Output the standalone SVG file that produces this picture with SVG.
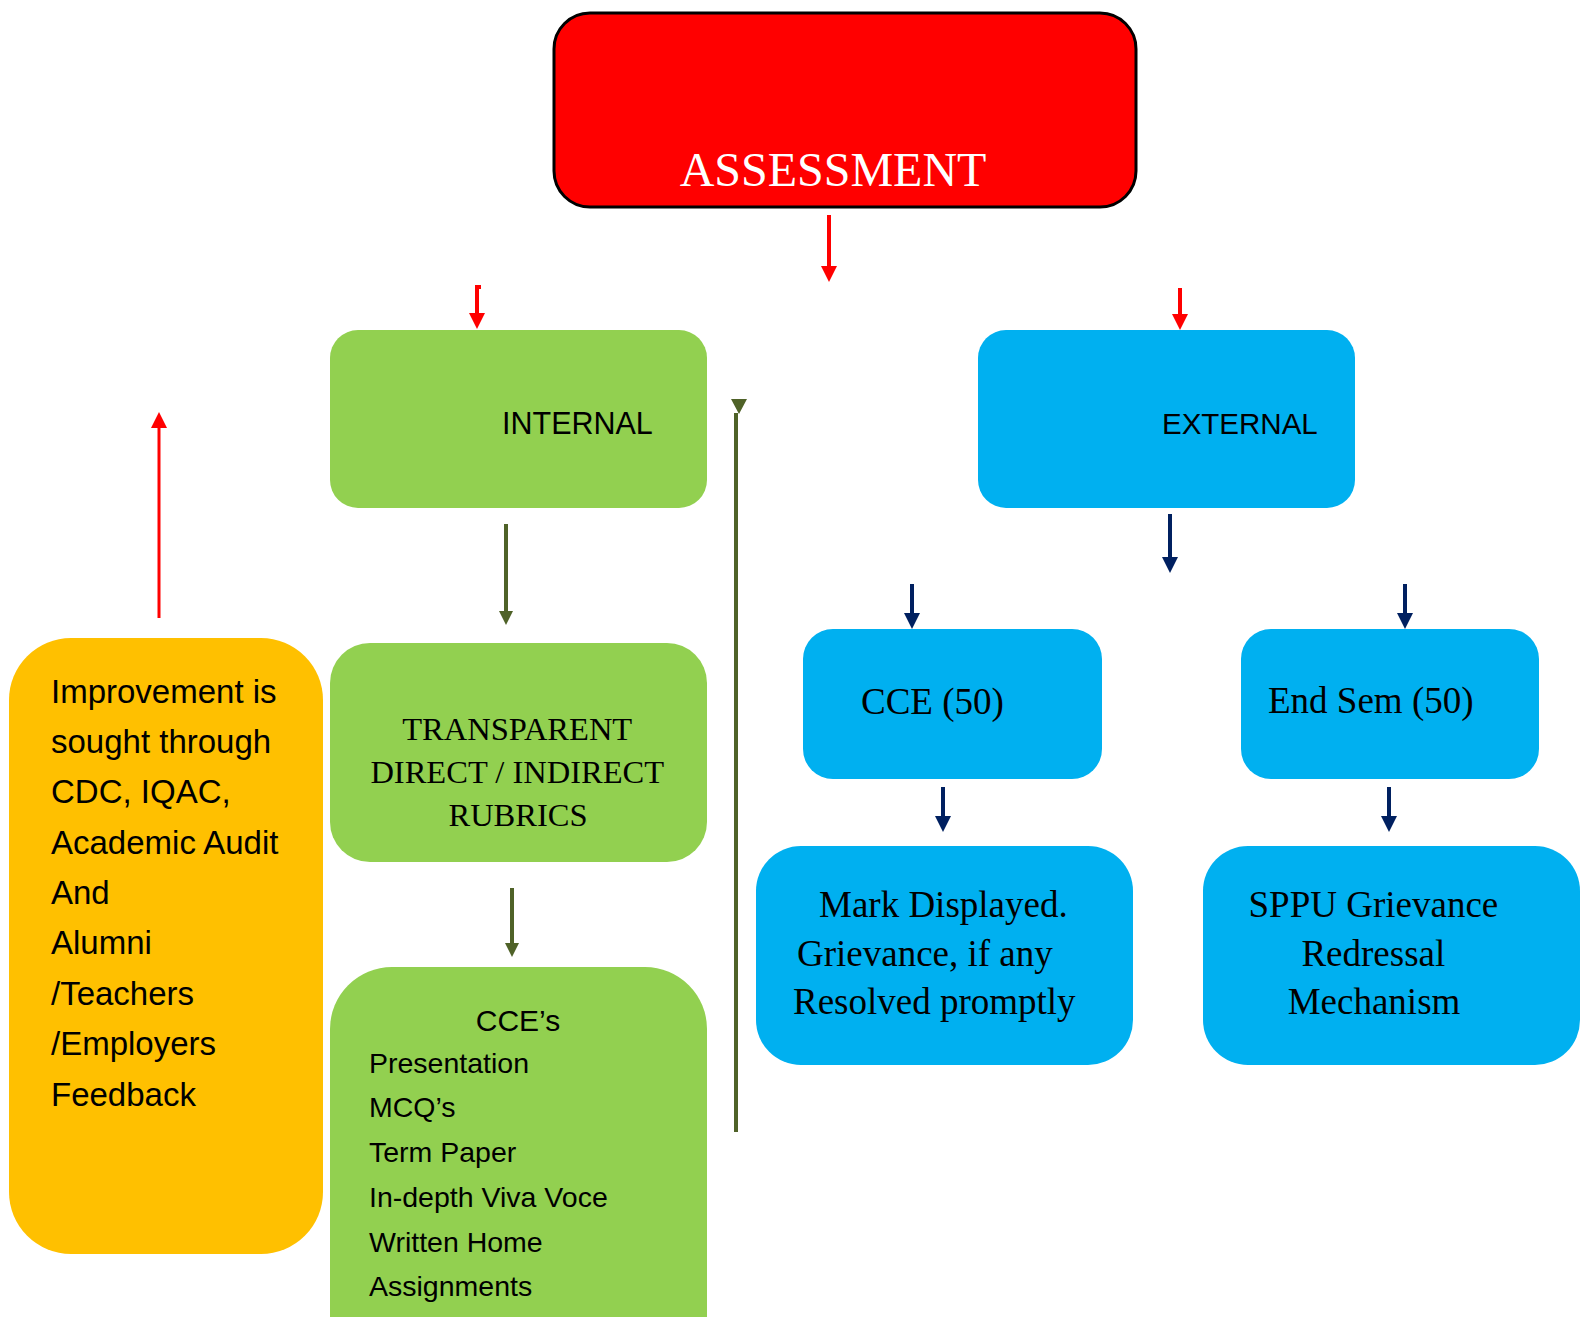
<svg xmlns="http://www.w3.org/2000/svg" width="1582" height="1317" viewBox="0 0 1582 1317">
<style>
.sans{font-family:"Liberation Sans",Arial,sans-serif;fill:#000}
.serif{font-family:"Liberation Serif","Times New Roman",serif;fill:#000}
.green{fill:#92D050}
.blue{fill:#00B0F0}
.red-line{stroke:#FF0000;stroke-width:4;fill:none}
.olive-line{stroke:#4F6228;stroke-width:4;fill:none}
.navy-line{stroke:#002060;stroke-width:4;fill:none}
</style>
<defs>
<marker id="ah-red" markerUnits="userSpaceOnUse" markerWidth="16" markerHeight="16" refX="0" refY="8" orient="auto"><path d="M0,0 L16,8 L0,16 z" fill="#FF0000"/></marker>
<marker id="ah-olive" markerUnits="userSpaceOnUse" markerWidth="14" markerHeight="14" refX="0" refY="7" orient="auto"><path d="M0,0 L14,7 L0,14 z" fill="#4F6228"/></marker>
<marker id="ah-navy" markerUnits="userSpaceOnUse" markerWidth="16" markerHeight="16" refX="0" refY="8" orient="auto"><path d="M0,0 L16,8 L0,16 z" fill="#002060"/></marker>
</defs>
<rect width="1582" height="1317" fill="#fff"/>

<g id="assessment">
<rect x="554" y="13" width="582" height="194" rx="36" fill="#FF0000" stroke="#000" stroke-width="3"/>
<text x="833" y="186" class="serif" font-size="48" style="fill:#fff" text-anchor="middle">ASSESSMENT</text>
</g>

<g id="internal">
<rect x="330" y="330" width="377" height="178" rx="28" class="green"/>
<text x="502" y="434" class="sans" font-size="30.5">INTERNAL</text>
</g>

<g id="external">
<rect x="978" y="330" width="377" height="178" rx="28" class="blue"/>
<text x="1162" y="434" class="sans" font-size="29.5">EXTERNAL</text>
</g>

<g id="rubrics">
<rect x="330" y="643" width="377" height="219" rx="40" class="green"/>
<text class="serif" font-size="32.5" text-anchor="middle">
<tspan x="521" y="740">TRANSPARENT</tspan>
<tspan x="521" y="783">DIRECT / INDIRECT</tspan>
<tspan x="518" y="826">RUBRICS</tspan>
</text>
</g>

<g id="cces">
<rect x="330" y="967" width="377" height="420" rx="62" class="green"/>
<text x="518" y="1031" class="sans" font-size="30" text-anchor="middle">CCE’s</text>
<text class="sans" font-size="28.5">
<tspan x="369" y="1073">Presentation</tspan>
<tspan x="369" y="1117">MCQ’s</tspan>
<tspan x="369" y="1162">Term Paper</tspan>
<tspan x="369" y="1207">In-depth Viva Voce</tspan>
<tspan x="369" y="1252">Written Home</tspan>
<tspan x="369" y="1296">Assignments</tspan>
</text>
</g>

<g id="improvement">
<rect x="9" y="638" width="314" height="616" rx="62" fill="#FFC000"/>
<text class="sans" font-size="33">
<tspan x="51" y="703">Improvement is</tspan>
<tspan x="51" y="753">sought through</tspan>
<tspan x="51" y="803">CDC, IQAC,</tspan>
<tspan x="51" y="854">Academic Audit</tspan>
<tspan x="51" y="904">And</tspan>
<tspan x="51" y="954">Alumni</tspan>
<tspan x="51" y="1005">/Teachers</tspan>
<tspan x="51" y="1055">/Employers</tspan>
<tspan x="51" y="1106">Feedback</tspan>
</text>
</g>

<g id="cce50">
<rect x="803" y="629" width="299" height="150" rx="30" class="blue"/>
<text x="861" y="714" class="serif" font-size="37">CCE (50)</text>
</g>

<g id="endsem">
<rect x="1241" y="629" width="298" height="150" rx="30" class="blue"/>
<text x="1268" y="713" class="serif" font-size="37">End Sem (50)</text>
</g>

<g id="mark-displayed">
<rect x="756" y="846" width="377" height="219" rx="45" class="blue"/>
<text class="serif" font-size="37">
<tspan x="819" y="917">Mark Displayed.</tspan>
<tspan x="797" y="966">Grievance, if any</tspan>
<tspan x="793" y="1014">Resolved promptly</tspan>
</text>
</g>

<g id="sppu">
<rect x="1203" y="846" width="377" height="219" rx="45" class="blue"/>
<text class="serif" font-size="37" text-anchor="middle">
<tspan x="1378" y="917">SPPU Grievance</tspan>
<tspan x="1378" y="966">Redressal</tspan>
<tspan x="1374" y="1014">Mechanism</tspan>
</text>
</g>

<g id="connectors">
<line x1="829" y1="215" x2="829" y2="266" class="red-line" marker-end="url(#ah-red)"/>
<path d="M481,287 L477,287 L477,313" class="red-line" marker-end="url(#ah-red)"/>
<line x1="1180" y1="288" x2="1180" y2="314" class="red-line" marker-end="url(#ah-red)"/>
<line x1="159" y1="618" x2="159" y2="428" stroke="#FF0000" stroke-width="3" marker-end="url(#ah-red)"/>
<line x1="506" y1="524" x2="506" y2="611" class="olive-line" marker-end="url(#ah-olive)"/>
<line x1="512" y1="888" x2="512" y2="943" class="olive-line" marker-end="url(#ah-olive)"/>
<line x1="736" y1="413" x2="736" y2="1132" class="olive-line"/>
<polygon points="731,399 747,399 739,414" fill="#4F6228"/>
<line x1="1170" y1="514" x2="1170" y2="557" class="navy-line" marker-end="url(#ah-navy)"/>
<line x1="912" y1="584" x2="912" y2="613" class="navy-line" marker-end="url(#ah-navy)"/>
<line x1="1405" y1="584" x2="1405" y2="613" class="navy-line" marker-end="url(#ah-navy)"/>
<line x1="943" y1="787" x2="943" y2="816" class="navy-line" marker-end="url(#ah-navy)"/>
<line x1="1389" y1="787" x2="1389" y2="816" class="navy-line" marker-end="url(#ah-navy)"/>
</g>
</svg>
